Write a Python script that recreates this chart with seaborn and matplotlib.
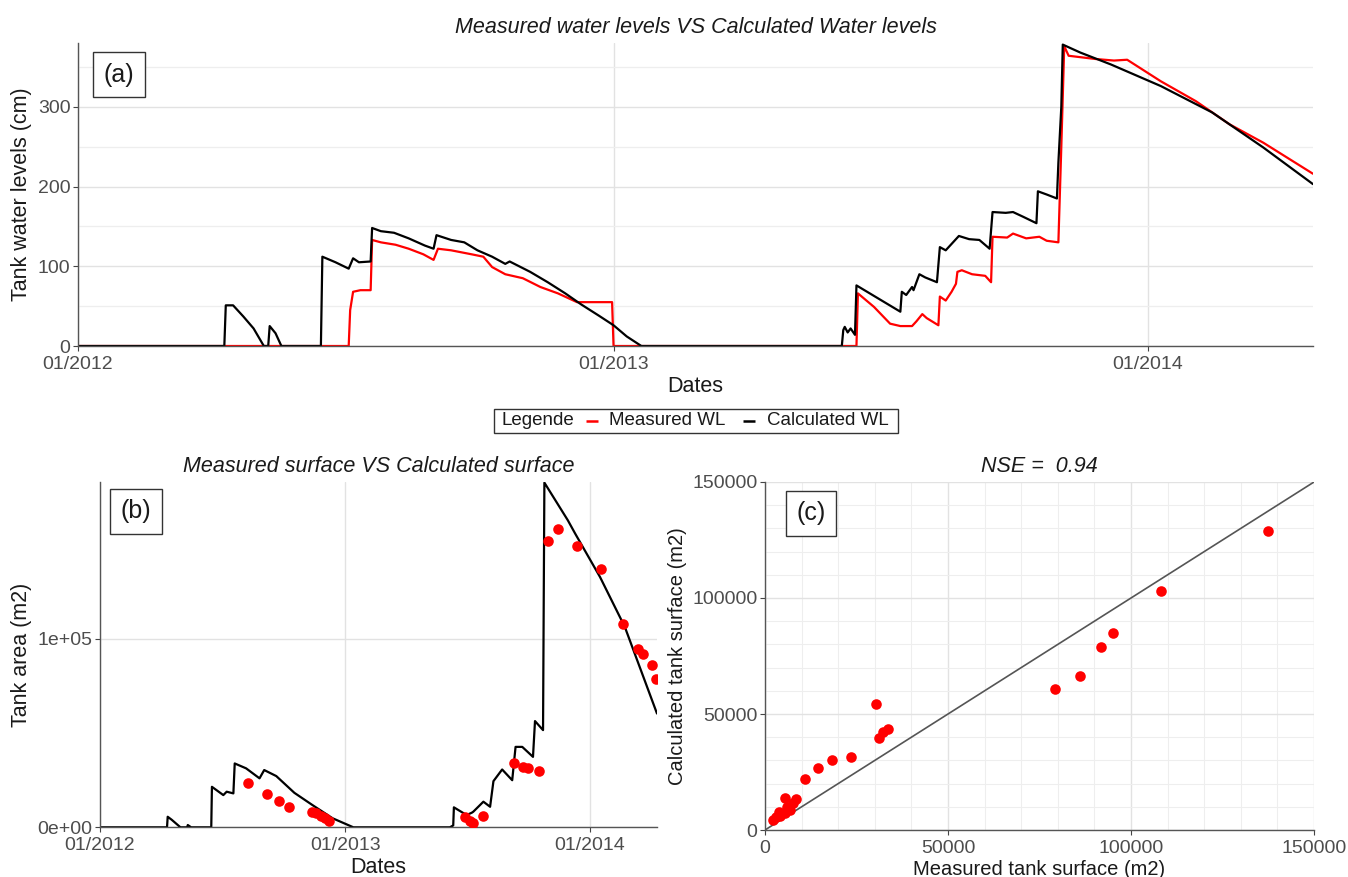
import matplotlib
matplotlib.use("Agg")
import matplotlib.pyplot as plt
import matplotlib.dates as mdates
from matplotlib.ticker import FixedLocator, FuncFormatter, MultipleLocator
from matplotlib.offsetbox import AnchoredOffsetbox, HPacker, TextArea, DrawingArea
from matplotlib.lines import Line2D
import pandas as pd
import seaborn as sns

# ---------------------------------------------------------------- data
# (a) tank water levels (cm)
calc_wl_dates = [
    "2012-01-01", "2012-04-10", "2012-04-11", "2012-04-16", "2012-04-23", "2012-04-30",
    "2012-05-07", "2012-05-10", "2012-05-11", "2012-05-15", "2012-05-19", "2012-06-15",
    "2012-06-16", "2012-06-25", "2012-07-04", "2012-07-07", "2012-07-11", "2012-07-19",
    "2012-07-20", "2012-07-26", "2012-08-04", "2012-08-14", "2012-08-25", "2012-08-31",
    "2012-09-02", "2012-09-12", "2012-09-21", "2012-09-30", "2012-10-10", "2012-10-19",
    "2012-10-22", "2012-11-05", "2012-11-17", "2012-11-29", "2012-12-10", "2012-12-22",
    "2013-01-01", "2013-01-10", "2013-01-20", "2013-06-06", "2013-06-07", "2013-06-08",
    "2013-06-10", "2013-06-12", "2013-06-15", "2013-06-16", "2013-07-16", "2013-07-17",
    "2013-07-20", "2013-07-24", "2013-07-25", "2013-07-29", "2013-08-02", "2013-08-10",
    "2013-08-12", "2013-08-16", "2013-08-18", "2013-08-25", "2013-09-01", "2013-09-08",
    "2013-09-15", "2013-09-17", "2013-09-26", "2013-10-01", "2013-10-08", "2013-10-17",
    "2013-10-18", "2013-10-24", "2013-10-31", "2013-11-01", "2013-11-03", "2013-11-04",
    "2013-11-16", "2013-12-07", "2014-01-10", "2014-02-14", "2014-03-21", "2014-04-24",
]
calc_wl_cm = [
    0, 0, 51, 51, 37, 22,
    0, 0, 25, 16, 0, 0,
    112, 105, 97, 110, 105, 106,
    148, 144, 142, 135, 126, 122,
    139, 133, 130, 120, 112, 103,
    106, 93, 80, 66, 52, 38,
    26, 12, 0, 0, 20, 24,
    17, 22, 14, 76, 43, 68,
    64, 74, 70, 90, 86, 80,
    124, 120, 124, 138, 134, 133,
    122, 168, 167, 168, 162, 154,
    194, 190, 185, 230, 300, 378,
    368, 353, 326, 293, 249, 203,
]
meas_wl_dates = [
    "2012-01-01", "2012-07-04", "2012-07-05", "2012-07-07", "2012-07-12", "2012-07-19",
    "2012-07-20", "2012-07-26", "2012-08-05", "2012-08-14", "2012-08-24", "2012-08-31",
    "2012-09-03", "2012-09-12", "2012-09-26", "2012-10-04", "2012-10-10", "2012-10-19",
    "2012-10-31", "2012-11-12", "2012-11-24", "2012-12-07", "2012-12-31", "2013-01-01",
    "2013-06-16", "2013-06-17", "2013-06-28", "2013-07-09", "2013-07-16", "2013-07-24",
    "2013-07-27", "2013-07-31", "2013-08-03", "2013-08-11", "2013-08-12", "2013-08-16",
    "2013-08-20", "2013-08-23", "2013-08-24", "2013-08-27", "2013-09-03", "2013-09-12",
    "2013-09-16", "2013-09-17", "2013-09-27", "2013-10-01", "2013-10-10", "2013-10-19",
    "2013-10-24", "2013-11-01", "2013-11-03", "2013-11-05", "2013-11-08", "2013-11-26",
    "2013-12-09", "2013-12-18", "2014-01-10", "2014-02-03", "2014-02-26", "2014-03-21",
    "2014-04-24",
]
meas_wl_cm = [
    0, 0, 45, 68, 70, 70,
    133, 130, 127, 122, 115, 108,
    122, 120, 115, 112, 99, 90,
    85, 74, 66, 55, 55, 0,
    0, 66, 49, 28, 25, 25,
    31, 40, 35, 26, 62, 57,
    68, 78, 93, 95, 90, 88,
    80, 137, 136, 141, 135, 137,
    132, 130, 250, 376, 364, 360,
    358, 359, 332, 307, 278, 255,
    216,
]

# (b) tank area (m2)
calc_area_dates = [
    "2012-01-01", "2012-04-10", "2012-04-11", "2012-04-17", "2012-04-30", "2012-05-10",
    "2012-05-11", "2012-05-16", "2012-06-15", "2012-06-16", "2012-07-03", "2012-07-08",
    "2012-07-18", "2012-07-20", "2012-08-06", "2012-08-26", "2012-09-02", "2012-09-20",
    "2012-10-17", "2012-11-13", "2012-12-13", "2013-01-13", "2013-06-06", "2013-06-11",
    "2013-06-12", "2013-07-01", "2013-07-09", "2013-07-11", "2013-07-26", "2013-08-05",
    "2013-08-10", "2013-08-23", "2013-09-07", "2013-09-12", "2013-09-22", "2013-10-08",
    "2013-10-11", "2013-10-23", "2013-10-24", "2013-10-25", "2013-11-29", "2013-12-10",
    "2014-01-16", "2014-02-22", "2014-04-11",
]
calc_area_m2 = [
    0, 0, 5600, 4000, 0, 0,
    1200, 0, 0, 21500, 17100, 18900,
    18000, 33900, 31300, 26000, 30400, 27200,
    18300, 11800, 4800, 0, 0, 1000,
    10600, 6500, 7800, 8300, 13600, 10900,
    24500, 30700, 25000, 42700, 42700, 37400,
    56400, 51600, 119000, 183000, 163000, 155900,
    132900, 106400, 60400,
]
meas_area_dates = [
    "2012-08-09", "2012-09-06", "2012-09-24", "2012-10-09", "2012-11-13", "2012-11-19",
    "2012-11-25", "2012-12-02", "2012-12-07", "2013-06-28", "2013-07-06", "2013-07-11",
    "2013-07-26", "2013-09-10", "2013-09-23", "2013-10-01", "2013-10-17", "2013-10-31",
    "2013-11-15", "2013-12-13", "2014-01-17", "2014-02-20", "2014-03-14", "2014-03-21",
    "2014-04-04", "2014-04-09",
]
meas_area_m2 = [
    23700, 17700, 14100, 10600, 8300, 7400,
    6000, 4800, 3500, 5300, 3500, 2100,
    6000, 33900, 32100, 31600, 29900, 152000,
    158200, 149300, 137300, 108200, 94900, 91900,
    86000, 78600,
]

# (c) measured vs calculated surface (m2)
surface_measured = [
    137400, 108300, 95100, 91900, 86200, 79300, 30300, 33700, 32300, 31200,
    23400, 18200, 14600, 10800, 8600, 7600, 5500, 6800, 5400, 3900,
    3100, 2300, 4200, 6000,
]
surface_calculated = [
    128900, 102900, 84700, 78900, 66300, 60700, 54100, 43500, 42300, 39500,
    31600, 30100, 26600, 21800, 13200, 11500, 13900, 8600, 7200, 7900,
    5700, 4300, 6000, 10000,
]
identity_line = [0, 150000]
nse_value = 0.94

year_ticks = ["2012-01-01", "2013-01-01", "2014-01-01"]

# ---------------------------------------------------------------- style
sns.set_theme(style="white")
plt.rcParams["font.family"] = ["Liberation Sans", "DejaVu Sans"]
plt.rcParams["axes.unicode_minus"] = False

RED = "#FF0000"
TXT = "#1a1a1a"
TICK_TXT = "#4D4D4D"
GRID_MAJ = "#E2E2E2"
GRID_MIN = "#EEEEEE"
TITLE_FS = 15.5
LABEL_FS = 15.5
TICK_FS = 14

fig = plt.figure(figsize=(13.48, 8.77), dpi=100)
fig.patch.set_facecolor("white")

ax_a = fig.add_axes([0.05786, 0.60547, 0.91617, 0.34550])
ax_b = fig.add_axes([0.07418, 0.05667, 0.41320, 0.39407])
ax_c = fig.add_axes([0.56751, 0.05359, 0.40727, 0.39681])


def base_style(ax):
    ax.set_facecolor("white")
    ax.set_axisbelow(True)
    for side in ("top", "right"):
        ax.spines[side].set_visible(False)
    for side in ("left", "bottom"):
        ax.spines[side].set_visible(True)
        ax.spines[side].set_color("#555555")
        ax.spines[side].set_linewidth(1.0)
    ax.tick_params(which="major", length=3.5, width=0.8, color="#444444",
                   labelsize=TICK_FS, labelcolor=TICK_TXT, pad=2,
                   bottom=True, left=True)
    ax.tick_params(axis="x", which="major", pad=3.5)
    ax.tick_params(which="minor", length=0)


def tag(ax, text, x, y):
    ax.text(x, y, text, transform=ax.transAxes, ha="center", va="center",
            fontsize=18, color=TXT, zorder=10,
            bbox=dict(boxstyle="square,pad=0.42", fc="white", ec="#333333", lw=1.0))


# ---------------------------------------------------------------- (a)
sns.lineplot(x=pd.to_datetime(meas_wl_dates), y=meas_wl_cm, ax=ax_a, color=RED,
             linewidth=1.6, estimator=None, sort=False)
sns.lineplot(x=pd.to_datetime(calc_wl_dates), y=calc_wl_cm, ax=ax_a, color="black",
             linewidth=1.6, estimator=None, sort=False)
base_style(ax_a)
ax_a.set_xlim(pd.Timestamp("2012-01-01"), pd.Timestamp("2014-04-24"))
ax_a.set_ylim(0, 380)
ax_a.set_xticks(pd.to_datetime(year_ticks))
ax_a.xaxis.set_major_formatter(mdates.DateFormatter("%m/%Y"))
ax_a.yaxis.set_major_locator(FixedLocator([0, 100, 200, 300]))
ax_a.yaxis.set_minor_locator(FixedLocator([50, 150, 250, 350]))
ax_a.xaxis.grid(True, which="major", color=GRID_MAJ, lw=1.0)
ax_a.yaxis.grid(True, which="major", color=GRID_MAJ, lw=1.0)
ax_a.yaxis.grid(True, which="minor", color=GRID_MIN, lw=0.9)
ax_a.set_xlabel("Dates", fontsize=LABEL_FS, color=TXT, labelpad=2)
ax_a.set_ylabel("Tank water levels (cm)", fontsize=LABEL_FS, color=TXT, labelpad=4)
ax_a.set_title("Measured water levels VS Calculated Water levels", fontsize=TITLE_FS,
               style="italic", color=TXT, pad=7)
tag(ax_a, "(a)", 0.0332, 0.896)

# ---------------------------------------------------------------- (b)
sns.lineplot(x=pd.to_datetime(calc_area_dates), y=calc_area_m2, ax=ax_b, color="black",
             linewidth=1.6, estimator=None, sort=False)
sns.scatterplot(x=pd.to_datetime(meas_area_dates), y=meas_area_m2, ax=ax_b, color=RED,
                s=58, linewidth=0, zorder=5)
base_style(ax_b)
ax_b.set_xlim(pd.Timestamp("2012-01-01"), pd.Timestamp("2014-04-11"))
ax_b.set_ylim(0, 183500)
ax_b.set_xticks(pd.to_datetime(year_ticks))
ax_b.xaxis.set_major_formatter(mdates.DateFormatter("%m/%Y"))
ax_b.yaxis.set_major_locator(FixedLocator([0, 100000]))
ax_b.yaxis.set_major_formatter(FuncFormatter(lambda v, p: f"{v:.0e}"))
ax_b.grid(True, which="major", color=GRID_MAJ, lw=1.0)
ax_b.set_xlabel("Dates", fontsize=LABEL_FS, color=TXT, labelpad=2)
ax_b.set_ylabel("Tank area (m2)", fontsize=LABEL_FS, color=TXT, labelpad=4)
ax_b.set_title("Measured surface VS Calculated surface", fontsize=TITLE_FS,
               style="italic", color=TXT, pad=7)
tag(ax_b, "(b)", 0.0646, 0.914)

# ---------------------------------------------------------------- (c)
sns.lineplot(x=identity_line, y=identity_line, ax=ax_c, color="#555555", linewidth=1.2)
sns.scatterplot(x=surface_measured, y=surface_calculated, ax=ax_c, color=RED,
                s=58, linewidth=0, zorder=5)
base_style(ax_c)
ax_c.set_xlim(0, 150000)
ax_c.set_ylim(0, 150000)
for axis in (ax_c.xaxis, ax_c.yaxis):
    axis.set_major_locator(MultipleLocator(50000))
    axis.set_minor_locator(MultipleLocator(10000))
    axis.set_major_formatter(FuncFormatter(lambda v, p: f"{v:.0f}"))
ax_c.grid(True, which="major", color=GRID_MAJ, lw=1.0)
ax_c.grid(True, which="minor", color=GRID_MIN, lw=0.8)
ax_c.set_xlabel("Measured tank surface (m2)", fontsize=LABEL_FS - 1, color=TXT, labelpad=2)
ax_c.set_ylabel("Calculated tank surface (m2)", fontsize=LABEL_FS - 1, color=TXT, labelpad=4)
ax_c.set_title(f"NSE =  {nse_value:.2f}", fontsize=TITLE_FS, style="italic", color=TXT, pad=7)
tag(ax_c, "(c)", 0.0833, 0.9095)

# ---------------------------------------------------------------- shared legend
LEG_FS = 13.5


def legend_key(color, width, x0, x1):
    da = DrawingArea(width, 10, 0, 0)
    da.add_artist(Line2D([x0, x1], [5, 5], color=color, lw=1.8, solid_capstyle="butt"))
    return da


tp = dict(fontsize=LEG_FS, color=TXT)
row = HPacker(
    children=[
        DrawingArea(3, 1, 0, 0),
        TextArea("Legende", textprops=tp),
        legend_key(RED, 24.5, 7.9, 16.6),
        TextArea("Measured WL", textprops=tp),
        legend_key("black", 30.2, 13.0, 21.6),
        TextArea("Calculated WL", textprops=tp),
        DrawingArea(4, 1, 0, 0),
    ],
    align="center", pad=0, sep=0,
)
legend_box = AnchoredOffsetbox(loc="center", child=row, pad=0.2, borderpad=0,
                               frameon=True, prop=dict(size=LEG_FS),
                               bbox_to_anchor=(0.5163, 0.52),
                               bbox_transform=fig.transFigure)
legend_box.patch.set_boxstyle("square,pad=0")
legend_box.patch.set_edgecolor("#333333")
legend_box.patch.set_linewidth(1.0)
fig.add_artist(legend_box)

fig.savefig("out.png", dpi=100, facecolor="white")
